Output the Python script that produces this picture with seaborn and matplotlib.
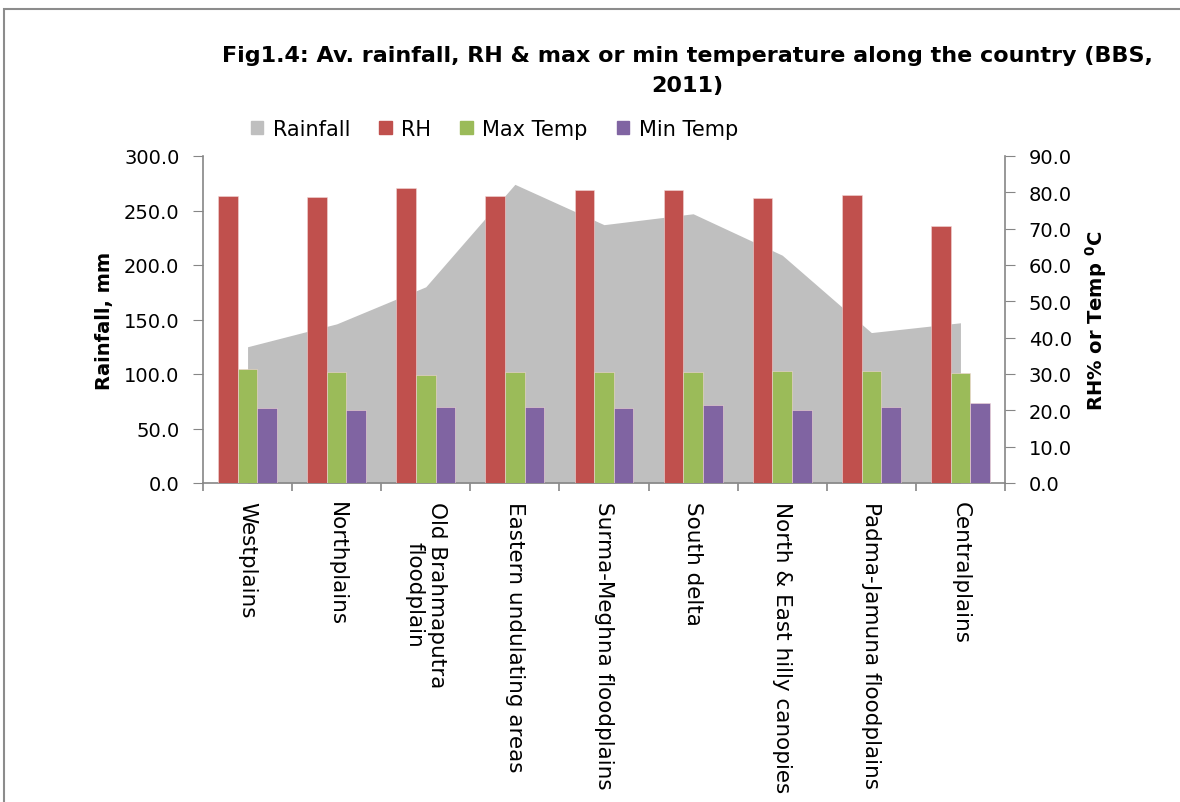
import numpy as np
import pandas as pd
import seaborn as sns
import matplotlib
matplotlib.use('Agg')
import matplotlib.pyplot as plt
from matplotlib.patches import Rectangle, Patch

sns.set_style('ticks')
plt.rcParams['font.family'] = ['DejaVu Sans']
plt.rcParams['text.color'] = 'black'
plt.rcParams['axes.labelcolor'] = 'black'

regions = ['Westplains', 'Northplains', 'Old Brahmaputra\nfloodplain', 'Eastern undulating areas',
           'Surma-Meghna floodplains', 'South delta', 'North & East hilly canopies',
           'Padma-Jamuna floodplains', 'Centralplains']
rainfall = [125, 146, 180, 274, 237, 247, 209, 138, 147]
rh = [78.9, 78.6, 81.1, 78.9, 80.7, 80.7, 78.4, 79.4, 70.6]
max_temp = [31.4, 30.5, 29.7, 30.5, 30.5, 30.5, 30.7, 30.7, 30.3]
min_temp = [20.6, 20.2, 20.9, 20.9, 20.6, 21.6, 20.2, 20.9, 21.9]

series = ['RH', 'Max Temp', 'Min Temp']
colors = {'Rainfall': '#BFBFBF', 'RH': '#C0504D', 'Max Temp': '#9BBB59', 'Min Temp': '#8064A2'}

df = pd.DataFrame({'region': regions * 3,
                   'series': np.repeat(series, len(regions)),
                   'value': rh + max_temp + min_temp})

fig = plt.figure(figsize=(11.8, 8.03), dpi=100)
ax = fig.add_axes([203/1180, 1-484/803, (1005-203)/1180, (484-157)/803])
ax2 = ax.twinx()

# rainfall area on left axis
x = np.arange(len(regions))
ax.fill_between(x, rainfall, color=colors['Rainfall'], lw=0)
ax.set_ylim(0, 300)
ax.set_yticks(np.arange(0, 301, 50))
ax.set_yticklabels(['%.1f' % v for v in np.arange(0, 301, 50)])

# bars on right axis
sns.barplot(data=df, x='region', y='value', hue='series', palette=colors, width=0.66,
            saturation=1, ax=ax2, legend=False, edgecolor='#f2d6d6', linewidth=0.4)
ax2.set_ylim(0, 90)
ax2.set_yticks(np.arange(0, 91, 10))
ax2.set_yticklabels(['%.1f' % v for v in np.arange(0, 91, 10)])
ax2.set_xlabel('')
ax2.set_ylabel('')

axis_col = '#868686'
for a in (ax, ax2):
    for s in a.spines.values():
        s.set_color(axis_col)
        s.set_linewidth(1.2)
    a.spines['top'].set_visible(False)
    a.tick_params(axis='y', colors=axis_col, labelcolor='black', labelsize=14, length=7, pad=10)
ax.spines['right'].set_visible(False)
ax2.spines['left'].set_visible(False)
ax2.spines['bottom'].set_visible(False)

# category labels at centres, tick marks at boundaries
ax.set_xlim(-0.5, len(regions) - 0.5)
ax.set_xticks(x)
ax.set_xticklabels(regions, rotation=-90, ha='center', va='top', multialignment='center', fontsize=15.5)
ax.tick_params(axis='x', which='major', length=0, pad=13, labelcolor='black')
ax.set_xticks(np.arange(-0.5, len(regions)), minor=True)
ax.tick_params(axis='x', which='minor', length=6, color=axis_col, width=1.2)

ax.set_ylabel('Rainfall, mm', fontsize=14, fontweight='bold', labelpad=7, color='black')
ax2.set_ylabel(r'RH% or Temp $\mathbf{^{0}}$C', fontsize=14, fontweight='bold', labelpad=8, color='black')

handles = [Patch(color=colors[k]) for k in ['Rainfall', 'RH', 'Max Temp', 'Min Temp']]
fig.legend(handles, ['Rainfall', 'RH', 'Max Temp', 'Min Temp'], loc='center left',
           bbox_to_anchor=(232/1180, 1-130/803), ncol=4, frameon=False, fontsize=15,
           handlelength=0.6, handleheight=0.6, handletextpad=0.45, columnspacing=1.4)

fig.text(687/1180, 1-71/803, 'Fig1.4: Av. rainfall, RH & max or min temperature along the country (BBS,\n2011)',
         ha='center', va='center', fontsize=16, fontweight='bold', linespacing=1.65)

fig.patches.append(Rectangle((4/1180, -0.1), 1.2, 1.1 - 10/803, transform=fig.transFigure,
                             fill=False, edgecolor='#8c8c8c', lw=1.5))

fig.savefig('out.png', dpi=100)
